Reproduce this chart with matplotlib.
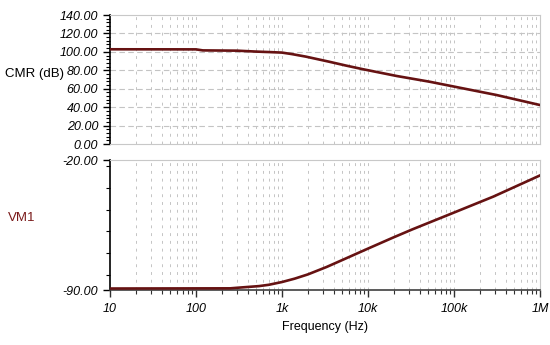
import numpy as np
import matplotlib
matplotlib.use("Agg")
import matplotlib.pyplot as plt
from matplotlib.ticker import FixedLocator, MultipleLocator, NullFormatter, FuncFormatter

plt.rcParams['font.family'] = ['Liberation Sans', 'DejaVu Sans']

# ---- data ----
cmr_freq = [10, 100, 120, 300, 500, 700, 1000, 1300, 1900, 3500, 5500, 8800, 21600, 52000, 127000, 311000, 1e6]
cmr_db = [102.8, 102.7, 101.6, 101.3, 100.3, 99.8, 99.2, 97.6, 94.8, 89.4, 85.2, 81.1, 73.8, 67.6, 60.4, 53.2, 42.3]

vm1_freq = [10, 250, 300, 540, 700, 1000, 1400, 2000, 3300, 5000, 10000, 19500, 33000, 100000, 287000, 1e6]
vm1_db = [-89.2, -89.1, -88.8, -87.9, -87.2, -85.7, -83.9, -81.6, -77.6, -73.9, -67.7, -61.8, -57.3, -48.3, -39.7, -28.3]

x_ticks = [10, 100, 1e3, 1e4, 1e5, 1e6]
x_tick_labels = ["10", "100", "1k", "10k", "100k", "1M"]
cmr_yticks = [0, 20, 40, 60, 80, 100, 120, 140]
vm1_yticks = [-90, -20]

CURVE = '#661212'
GRID = '#c4c4c4'
FRAME = '#c8c8c8'
FS = 9

fig = plt.figure(figsize=(5.5, 3.45), dpi=100)
ax1 = fig.add_axes([0.2, 0.5826, 0.7818, 0.3739])
ax2 = fig.add_axes([0.2, 0.1594, 0.7818, 0.3768])

minor_x = [m * 10 ** e for e in range(1, 6) for m in range(2, 10)]
grid_x = minor_x + [100, 1e3, 1e4, 1e5]

for ax in (ax1, ax2):
    ax.set_xscale('log')
    ax.set_xlim(10, 1e6)
    for gx in grid_x:
        ax.axvline(gx, color=GRID, lw=0.7, ls=(0, (3, 5)), zorder=0)
    ax.spines['top'].set_color(FRAME)
    ax.spines['right'].set_color(FRAME)
    ax.spines['left'].set_color('black')
    ax.spines['left'].set_linewidth(1.2)
    ax.tick_params(axis='y', which='both', direction='out', colors='black',
                   labelsize=FS, left=True)
    ax.tick_params(axis='y', which='major', length=5, width=1)
    ax.tick_params(axis='y', which='minor', length=3, width=0.8)

# top panel
ax1.plot(cmr_freq, cmr_db, color=CURVE, lw=1.9, zorder=3)
ax1.set_ylim(0, 140)
ax1.yaxis.set_major_locator(FixedLocator(cmr_yticks))
ax1.yaxis.set_minor_locator(MultipleLocator(4))
for gy in cmr_yticks[1:-1]:
    ax1.axhline(gy, color=GRID, lw=0.8, ls=(0, (5, 3)), zorder=0)
ax1.spines['bottom'].set_color(FRAME)
ax1.tick_params(axis='x', which='both', bottom=False, labelbottom=False)

# bottom panel
ax2.plot(vm1_freq, vm1_db, color=CURVE, lw=1.9, zorder=3)
ax2.set_ylim(-90, -20)
ax2.yaxis.set_major_locator(FixedLocator(vm1_yticks))
ax2.yaxis.set_minor_locator(MultipleLocator(70 / 6))
ax2.spines['bottom'].set_color('#404040')
ax2.spines['bottom'].set_linewidth(1.2)
ax2.xaxis.set_major_locator(FixedLocator(x_ticks))
ax2.xaxis.set_minor_locator(FixedLocator(minor_x))
ax2.xaxis.set_minor_formatter(NullFormatter())
ax2.set_xticklabels(x_tick_labels)
ax2.tick_params(axis='x', which='major', direction='out', length=5, width=1,
                colors='#303030', labelsize=FS, labelcolor='black', pad=4)
ax2.tick_params(axis='x', which='minor', direction='out', length=3, width=0.8,
                colors='#303030')

fmt = FuncFormatter(lambda v, p: f"{v:.2f}")
ax1.yaxis.set_major_formatter(fmt)
ax2.yaxis.set_major_formatter(fmt)

for lab in ax1.get_yticklabels() + ax2.get_yticklabels() + ax2.get_xticklabels():
    lab.set_fontstyle('italic')

# medium tick at the middle of the VM1 scale
mt = ax2.yaxis.get_minor_ticks()
locs = ax2.yaxis.get_minorticklocs()
for t, loc in zip(mt, locs):
    if abs(loc + 55) < 1:
        t.tick1line.set_markersize(5)

fig.text(5 / 550, 1 - 74 / 345, "CMR (dB)", fontsize=FS + 0.5, va='center', ha='left')
fig.text(8 / 550, 1 - 218 / 345, "VM1", fontsize=FS + 0.5, va='center', ha='left', color='#7a1a1a')
fig.text(325 / 550, 1 - 327 / 345, "Frequency (Hz)", fontsize=FS, va='center', ha='center')

fig.savefig("out.png", dpi=100)
